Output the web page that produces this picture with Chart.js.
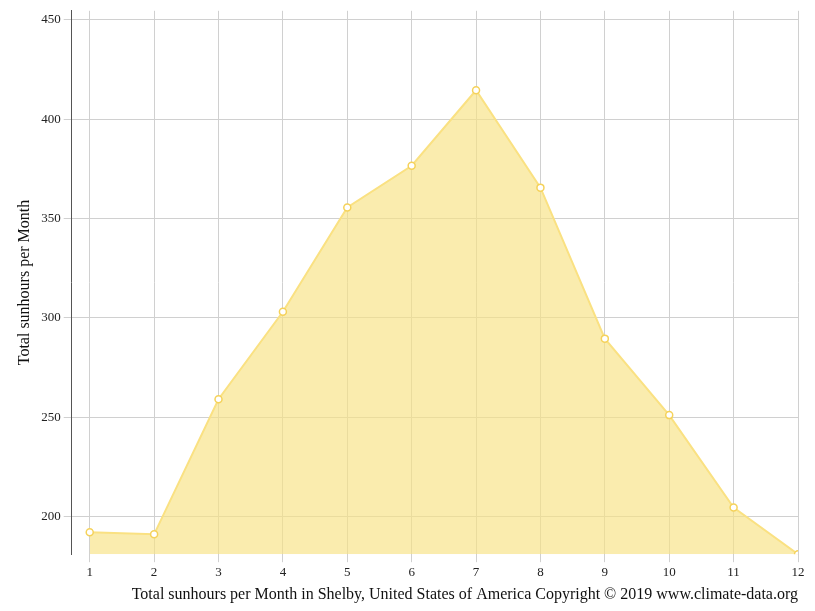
<!DOCTYPE html>
<html lang="en">
<head>
    <meta charset="UTF-8">
    <title>Sunhours Shelby</title>
    <script src="https://cdn.jsdelivr.net/npm/chart.js"></script>
    <style>
        body { margin: 0; background: #fff; }
        #wrap { width: 815px; height: 611px; }
    </style>
</head>
<body>
    <div id="wrap"><canvas id="chart"></canvas></div>
    <script>
        const months = [1, 2, 3, 4, 5, 6, 7, 8, 9, 10, 11, 12];
        const sunhours = [192, 191, 259, 303, 355.5, 376.5, 414.5, 365.5, 289.5, 251, 204.5, 181];

        const points = months.map((m, i) => ({ x: m, y: sunhours[i] }));
        const font = { family: 'Liberation Serif', size: 13 };

        new Chart(document.getElementById('chart'), {
            type: 'line',
            data: {
                datasets: [{
                    data: points,
                    fill: 'start',
                    backgroundColor: 'rgba(247, 226, 130, 0.65)',
                    borderColor: 'rgba(250, 225, 130, 1)',
                    borderWidth: 2,
                    pointBackgroundColor: '#fff',
                    pointBorderColor: 'rgba(245, 210, 90, 1)',
                    pointBorderWidth: 1.5,
                    pointRadius: 3.5,
                    tension: 0
                }]
            },
            options: {
                responsive: true,
                maintainAspectRatio: false,
                animation: false,
                layout: { padding: { top: 10, right: 17, left: 11, bottom: 3 } },
                plugins: { legend: { display: false }, tooltip: { enabled: false } },
                scales: {
                    x: {
                        type: 'linear',
                        min: 0.72,
                        max: 12,
                        afterBuildTicks: axis => {
                            axis.ticks = months.map(m => ({ value: m }));
                        },
                        grid: { color: '#d0d0d0', drawTicks: true, tickLength: 8 },
                        border: { display: false },
                        ticks: { color: '#222', font: font, maxRotation: 0 },
                        title: {
                            display: true,
                            text: 'Total sunhours per Month in Shelby, United States of America Copyright © 2019 www.climate-data.org',
                            align: 'end',
                            color: '#111',
                            font: { family: 'Liberation Serif', size: 16 },
                            padding: { top: 1 }
                        }
                    },
                    y: {
                        min: 181,
                        max: 454.5,
                        afterBuildTicks: axis => {
                            axis.ticks = [200, 250, 300, 350, 400, 450].map(v => ({ value: v }));
                        },
                        grid: { color: '#d0d0d0', tickLength: 8 },
                        border: { display: true, color: '#555' },
                        ticks: { color: '#222', font: font },
                        title: {
                            display: true,
                            text: 'Total sunhours per Month',
                            color: '#111',
                            font: { family: 'Liberation Serif', size: 16 }
                        }
                    }
                }
            }
        });
    </script>
</body>
</html>
